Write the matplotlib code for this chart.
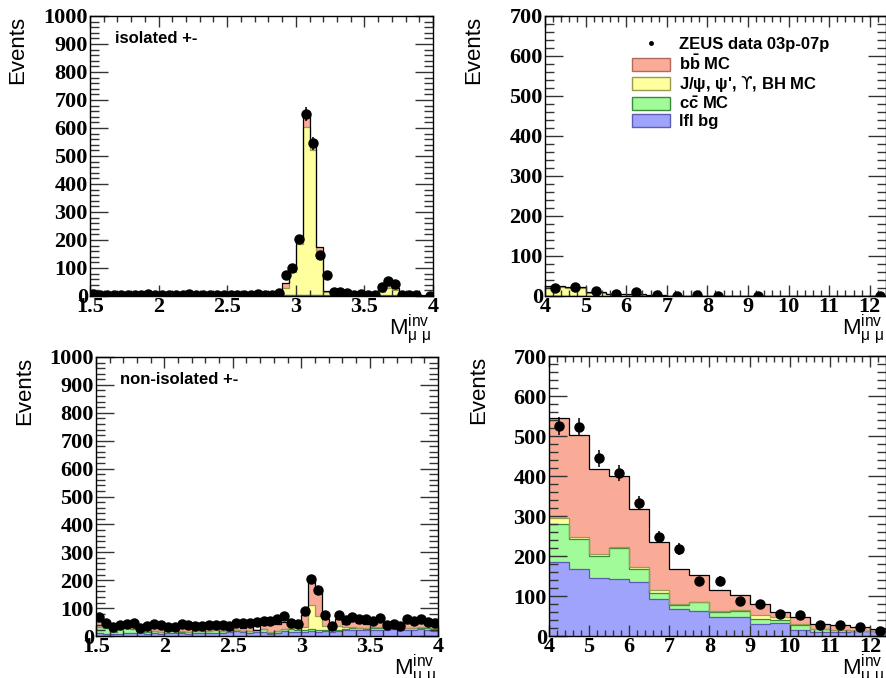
import numpy as np
import matplotlib
matplotlib.use("Agg")
import matplotlib.pyplot as plt
from matplotlib.patches import Patch
from matplotlib.lines import Line2D
from matplotlib.ticker import MultipleLocator

plt.rcParams['font.family'] = ['Liberation Sans', 'DejaVu Sans']
plt.rcParams['mathtext.fontset'] = 'custom'
plt.rcParams['mathtext.rm'] = 'Liberation Sans'
plt.rcParams['mathtext.it'] = 'Liberation Sans:italic'
plt.rcParams['mathtext.bf'] = 'Liberation Sans:bold'
plt.rcParams['mathtext.sf'] = 'DejaVu Sans'

# colours of the stack components
c_bb = '#f9ab97'
c_jpsi = '#ffff9e'
c_cc = '#a0fb98'
c_lfl = '#a0a3fb'
e_bb = '#b06a5a'
e_jpsi = '#9a9a50'
e_cc = '#3d8a3d'
e_lfl = '#5a5db0'

# ---------------- low mass, 1.5-4 GeV, 0.05 bins ----------------
low_edges = np.linspace(1.5, 4.0, 51)

# isolated, cumulative stack tops (lfl, +cc, +J/psi, +bb = total)
iso_lfl = [1] * 28 + [2, 2, 2, 3, 3, 2] + [1] * 16
iso_cc = [1] * 28 + [4, 4, 5, 5, 5, 4, 2, 1, 1, 1, 1, 1, 1, 1, 5, 5, 4, 1, 1, 1, 1, 1]
iso_jpsi = [2] * 28 + [30, 85, 185, 605, 520, 160, 15, 5, 4, 4, 2, 2, 2, 2,
                       15, 30, 20, 1, 1, 1, 1, 1]
iso_tot = [3, 3, 3, 3, 3, 3, 3, 3, 3, 3, 3, 3, 3, 3, 3, 3, 3, 3, 3, 3, 3, 3,
           3, 3, 3, 3, 4, 5, 45, 95, 200, 655, 550, 175, 18, 8, 7, 6, 3, 3,
           3, 3, 25, 40, 28, 2, 2, 2, 2, 2]
iso_data = [8, 5, 4, 4, 4, 3, 4, 5, 6, 3, 5, 5, 4, 5, 6, 5, 4, 5, 5, 5, 4, 5,
            5, 4, 6, 5, 4, 10, 75, 100, 205, 650, 545, 145, 75, 15, 15, 12,
            5, 8, 3, 5, 33, 55, 42, 2, 2, 2, np.nan, 0.5]

# non-isolated
noniso_lfl = [12, 8, 6, 8, 10, 12, 10, 8, 10, 8, 12, 12, 10, 8, 10, 12, 12,
              10, 12, 14, 18, 14, 12, 16, 16, 8, 10, 18, 16, 14, 16, 18, 16,
              18, 16, 18, 20, 22, 20, 20, 22, 20, 22, 24, 22, 20, 20, 24, 20, 18]
noniso_cc = [32, 30, 16, 24, 28, 26, 20, 16, 18, 14, 18, 20, 16, 14, 18, 18,
             18, 20, 18, 18, 22, 18, 18, 22, 24, 12, 18, 24, 26, 22, 20, 24,
             20, 22, 20, 22, 26, 28, 28, 26, 30, 30, 28, 28, 26, 28, 28, 30, 30, 26]
noniso_jpsi = [33, 31, 17, 25, 29, 27, 21, 17, 19, 15, 19, 21, 17, 15, 19, 19,
               19, 21, 19, 19, 23, 19, 19, 23, 25, 13, 19, 26, 30, 27, 32, 112,
               72, 35, 28, 36, 33, 31, 30, 28, 32, 32, 30, 30, 28, 30, 30, 32, 32, 28]
noniso_tot = [52, 45, 32, 38, 40, 42, 30, 36, 38, 36, 30, 32, 38, 38, 36, 36,
              36, 40, 50, 22, 48, 30, 40, 22, 44, 44, 44, 50, 52, 45, 75, 205,
              165, 60, 45, 62, 42, 52, 45, 44, 50, 55, 42, 40, 36, 46, 45, 48, 45, 42]
noniso_data = [67, 46, 33, 40, 43, 45, 30, 36, 43, 40, 32, 34, 42, 38, 36, 37,
               38, 40, 40, 36, 48, 45, 45, 51, 54, 55, 60, 72, 45, 43, 91, 206,
               165, 75, 36, 75, 57, 67, 60, 60, 55, 63, 39, 43, 36, 60, 55, 60, 51, 48]

# ---------------- high mass, 4-12.5 GeV, 0.5 bins ----------------
high_edges = np.arange(4.0, 12.51, 0.5)

hiso_lfl = [0.3] * 17
hiso_cc = [0.5] * 17
hiso_jpsi = [22, 20, 8, 5, 3, 1, 0.5, 0.5, 0.5, 0.5, 0.5, 0.5, 0.5, 0.5, 0.5, 0.5, 0.5]
hiso_tot = [25, 22, 9, 6, 4, 2, 1, 1, 0.8, 0.6, 0.6, 0.6, 0.6, 0.6, 0.6, 0.6, 0.6]
hiso_data = [19, 22, 13, 5, 9, 3, 1, 2, 0.5, np.nan, 0.5, np.nan, np.nan,
             np.nan, np.nan, np.nan, 0.5]

hnon_lfl = [184, 168, 146, 143, 136, 92, 67, 63, 48, 48, 29, 33, 15, 9, 11, 13, 12]
hnon_cc = [279, 243, 200, 219, 167, 107, 77, 86, 61, 63, 42, 40, 27, 17, 14, 13, 11]
hnon_jpsi = [294, 248, 205, 222, 173, 115, 80, 86, 63, 65, 52, 47, 30, 18, 15, 13, 12]
hnon_tot = [544, 503, 418, 400, 317, 236, 168, 152, 115, 102, 79, 61, 47, 30, 27, 22, 17]
hnon_data = [525, 522, 444, 407, 332, 248, 218, 137, 138, 87, 80, 55, 53, 28, 28, 22, 13]


def draw_panel(ax, edges, lfl, cc, jpsi, tot, data):
    levels = [lfl, cc, jpsi, tot]
    fills = [c_lfl, c_cc, c_jpsi, c_bb]
    lines = [e_lfl, e_cc, e_jpsi, 'black']
    lower = np.zeros(len(edges) - 1)
    for top, fc in zip(levels, fills):
        top = np.maximum(np.asarray(top, float), lower)
        ax.stairs(top, edges, baseline=lower, fill=True, color=fc, lw=0)
        lower = top
    lower = np.zeros(len(edges) - 1)
    for top, ec in zip(levels, lines):
        top = np.maximum(np.asarray(top, float), lower)
        ax.stairs(top, edges, baseline=None, color=ec, lw=0.9)
        lower = top
    centers = 0.5 * (edges[1:] + edges[:-1])
    data = np.asarray(data, float)
    ax.errorbar(centers, data, yerr=np.sqrt(data), fmt='o', ms=6.5,
                color='black', elinewidth=1.1, capsize=0, zorder=5)


def style_axes(ax, xmaj, xmin, ymax):
    ax.set_ylim(0, ymax)
    ax.xaxis.set_major_locator(MultipleLocator(xmaj))
    ax.xaxis.set_minor_locator(MultipleLocator(xmin))
    ax.yaxis.set_major_locator(MultipleLocator(100))
    ax.yaxis.set_minor_locator(MultipleLocator(20))
    ax.xaxis.set_major_formatter(plt.FuncFormatter(lambda v, p: f'{v:g}'))
    ax.tick_params(which='both', direction='in', top=True, right=True,
                   color='#333333', width=1)
    ax.tick_params(axis='x', which='major', length=8, pad=1)
    ax.tick_params(axis='x', which='minor', length=4)
    ax.tick_params(axis='y', which='major', length=13, pad=1.5)
    ax.tick_params(axis='y', which='minor', length=6.5)
    for lab in ax.get_xticklabels() + ax.get_yticklabels():
        lab.set_fontfamily('Liberation Serif')
        lab.set_fontweight('bold')
        lab.set_fontsize(16)
    for s in ax.spines.values():
        s.set_linewidth(1)
    ax.text(-0.21, 1.0, 'Events', rotation=90, ha='center', va='top',
            fontsize=16, transform=ax.transAxes)
    ax.text(0.995, -0.058, 'M$^{\\rm inv}_{\\rm μ\\ μ}$', ha='right', va='top',
            fontsize=16, transform=ax.transAxes)


fig = plt.figure(figsize=(8.87, 6.78), dpi=100)
ax_tl = fig.add_axes([90 / 887, 1 - 296 / 678, 343 / 887, 280 / 678])
ax_tr = fig.add_axes([545 / 887, 1 - 296 / 678, 341 / 887, 280 / 678])
ax_bl = fig.add_axes([96 / 887, 1 - 636 / 678, 342 / 887, 279 / 678])
ax_br = fig.add_axes([549 / 887, 1 - 636 / 678, 337 / 887, 280 / 678])

draw_panel(ax_tl, low_edges, iso_lfl, iso_cc, iso_jpsi, iso_tot, iso_data)
draw_panel(ax_bl, low_edges, noniso_lfl, noniso_cc, noniso_jpsi, noniso_tot, noniso_data)
draw_panel(ax_tr, high_edges, hiso_lfl, hiso_cc, hiso_jpsi, hiso_tot, hiso_data)
draw_panel(ax_br, high_edges, hnon_lfl, hnon_cc, hnon_jpsi, hnon_tot, hnon_data)

for ax in (ax_tl, ax_bl):
    ax.set_xlim(1.5, 4.0)
    style_axes(ax, 0.5, 0.1, 1000)
for ax in (ax_tr, ax_br):
    ax.set_xlim(4.0, 12.4)
    style_axes(ax, 1, 0.2, 700)

ax_tl.text(0.073, 0.918, 'isolated +-', fontsize=12, fontweight='bold',
           transform=ax_tl.transAxes, va='center')
ax_bl.text(0.07, 0.921, 'non-isolated +-', fontsize=12, fontweight='bold',
           transform=ax_bl.transAxes, va='center')

handles = [
    Line2D([], [], marker='o', ls='', color='black', ms=2.5),
    Patch(facecolor=c_bb, edgecolor=e_bb, lw=1),
    Patch(facecolor=c_jpsi, edgecolor=e_jpsi, lw=1),
    Patch(facecolor=c_cc, edgecolor=e_cc, lw=1),
    Patch(facecolor=c_lfl, edgecolor=e_lfl, lw=1),
]
labels = ['ZEUS data 03p-07p',
          'b$\\mathbf{\\bar{b}}$ MC',
          'J/ψ, ψ\', $\\mathsf{ϒ}$, BH MC',
          'c$\\mathbf{\\bar{c}}$ MC',
          'lfl bg']
ax_tr.legend(handles, labels, loc='upper left', bbox_to_anchor=(0.255, 0.925),
             frameon=False, borderpad=0, borderaxespad=0, handlelength=2.3,
             handleheight=0.8, handletextpad=0.5, labelspacing=0.08,
             prop={'family': ['Liberation Sans', 'DejaVu Sans'],
                   'weight': 'bold', 'size': 12})

fig.savefig('out.png', dpi=100)
